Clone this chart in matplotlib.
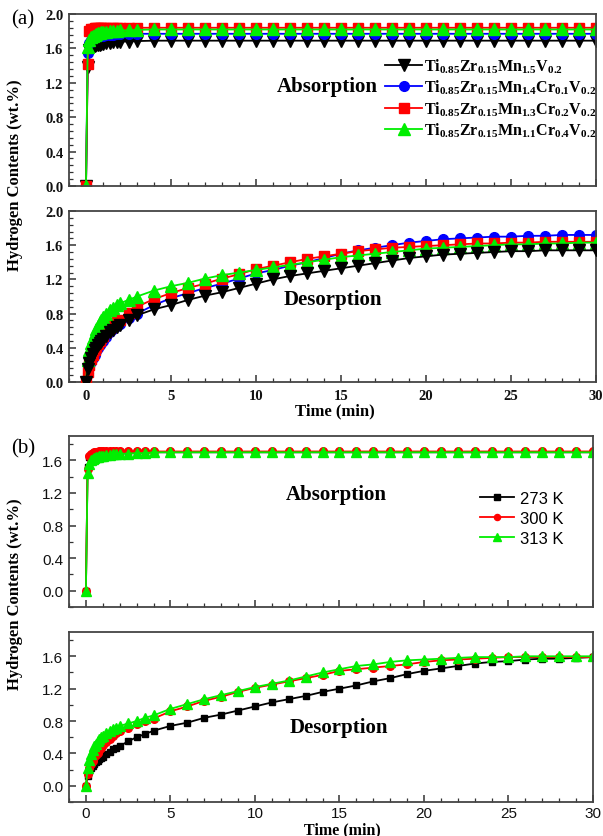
import matplotlib
matplotlib.use("Agg")
import matplotlib.pyplot as plt
from matplotlib.ticker import MultipleLocator, AutoMinorLocator

plt.rcParams['mathtext.fontset'] = 'custom'
plt.rcParams['mathtext.rm'] = 'Liberation Serif'
plt.rcParams['mathtext.bf'] = 'Liberation Serif:bold'
plt.rcParams['mathtext.it'] = 'Liberation Serif:italic'

# ---------------- data: panel (a) ----------------
time_a = [0, 0.1, 0.2, 0.3, 0.4, 0.5, 0.6, 0.7, 0.8, 0.9, 1.0, 1.2, 1.4, 1.6, 1.8, 2.0,
          2.5, 3, 4, 5, 6, 7, 8, 9, 10, 11, 12, 13, 14, 15, 16, 17, 18, 19, 20,
          21, 22, 23, 24, 25, 26, 27, 28, 29, 30]

labels_a = [r'$\mathbf{Ti_{0.85}Zr_{0.15}Mn_{1.5}V_{0.2}}$',
            r'$\mathbf{Ti_{0.85}Zr_{0.15}Mn_{1.4}Cr_{0.1}V_{0.2}}$',
            r'$\mathbf{Ti_{0.85}Zr_{0.15}Mn_{1.3}Cr_{0.2}V_{0.2}}$',
            r'$\mathbf{Ti_{0.85}Zr_{0.15}Mn_{1.1}Cr_{0.4}V_{0.2}}$']

abs_a_mn15 = [0, 1.38, 1.58, 1.61, 1.62, 1.63, 1.635, 1.64, 1.645, 1.65, 1.655, 1.66, 1.665, 1.67, 1.675, 1.68,
              1.68, 1.685, 1.69, 1.69, 1.69, 1.69, 1.69, 1.69, 1.69, 1.69, 1.69, 1.69, 1.69, 1.69, 1.69,
              1.69, 1.69, 1.69, 1.69, 1.69, 1.69, 1.69, 1.69, 1.69, 1.69, 1.69, 1.69, 1.69, 1.69]
abs_a_cr01 = [0, 1.55, 1.66, 1.70, 1.72, 1.73, 1.735, 1.74, 1.745, 1.75, 1.75, 1.755, 1.76, 1.76, 1.765, 1.765,
              1.77, 1.77, 1.77, 1.77, 1.77, 1.77, 1.77, 1.77, 1.77, 1.77, 1.77, 1.77, 1.77, 1.77, 1.77,
              1.77, 1.77, 1.77, 1.77, 1.77, 1.77, 1.77, 1.77, 1.77, 1.77, 1.77, 1.77, 1.77, 1.77]
abs_a_cr02 = [0, 1.42, 1.80, 1.82, 1.83, 1.835, 1.84, 1.84, 1.84, 1.84, 1.84, 1.84, 1.84, 1.84, 1.84, 1.84,
              1.84, 1.84, 1.84, 1.84, 1.84, 1.84, 1.84, 1.84, 1.84, 1.84, 1.84, 1.84, 1.84, 1.84, 1.84,
              1.84, 1.84, 1.84, 1.84, 1.84, 1.84, 1.84, 1.84, 1.84, 1.84, 1.84, 1.84, 1.84, 1.84]
abs_a_cr04 = [0, 1.62, 1.70, 1.73, 1.75, 1.76, 1.77, 1.775, 1.78, 1.785, 1.79, 1.795, 1.80, 1.80, 1.805, 1.81,
              1.81, 1.815, 1.82, 1.82, 1.82, 1.82, 1.82, 1.82, 1.82, 1.82, 1.82, 1.82, 1.82, 1.82, 1.82,
              1.82, 1.82, 1.82, 1.82, 1.82, 1.82, 1.82, 1.82, 1.82, 1.82, 1.82, 1.82, 1.82, 1.82]

des_a_mn15 = [0, 0.15, 0.22, 0.28, 0.33, 0.37, 0.40, 0.43, 0.46, 0.48, 0.50, 0.54, 0.58, 0.61, 0.64, 0.67,
              0.73, 0.78, 0.85, 0.90, 0.96, 1.01, 1.05, 1.10, 1.15, 1.20, 1.24, 1.27, 1.30, 1.33, 1.36,
              1.39, 1.42, 1.45, 1.47, 1.49, 1.50, 1.51, 1.52, 1.53, 1.53, 1.54, 1.54, 1.54, 1.54]
des_a_cr01 = [0, 0.10, 0.17, 0.23, 0.28, 0.32, 0.36, 0.40, 0.43, 0.46, 0.48, 0.53, 0.58, 0.62, 0.65, 0.68,
              0.75, 0.80, 0.90, 0.98, 1.04, 1.10, 1.15, 1.21, 1.27, 1.31, 1.36, 1.40, 1.45, 1.50, 1.54,
              1.57, 1.60, 1.63, 1.65, 1.67, 1.68, 1.69, 1.70, 1.70, 1.71, 1.71, 1.72, 1.72, 1.72]
des_a_cr02 = [0, 0.12, 0.20, 0.27, 0.32, 0.37, 0.41, 0.45, 0.48, 0.51, 0.54, 0.59, 0.63, 0.67, 0.70, 0.73,
              0.81, 0.88, 0.97, 1.04, 1.10, 1.15, 1.21, 1.26, 1.32, 1.36, 1.40, 1.44, 1.47, 1.50, 1.53,
              1.55, 1.57, 1.58, 1.59, 1.60, 1.61, 1.62, 1.62, 1.63, 1.63, 1.64, 1.64, 1.64, 1.64]
des_a_cr04 = [0, 0.26, 0.38, 0.46, 0.52, 0.57, 0.62, 0.66, 0.70, 0.73, 0.76, 0.80, 0.84, 0.87, 0.90, 0.92,
              0.96, 1.00, 1.07, 1.12, 1.16, 1.21, 1.25, 1.28, 1.31, 1.34, 1.37, 1.40, 1.43, 1.46, 1.48,
              1.50, 1.52, 1.54, 1.56, 1.57, 1.58, 1.59, 1.60, 1.61, 1.61, 1.62, 1.62, 1.63, 1.63]

# ---------------- data: panel (b) ----------------
time_b = [0, 0.1, 0.2, 0.3, 0.4, 0.5, 0.6, 0.7, 0.8, 0.9, 1.0, 1.2, 1.4, 1.6, 1.8, 2.0,
          2.5, 3, 3.5, 4, 5, 6, 7, 8, 9, 10, 11, 12, 13, 14, 15, 16, 17, 18, 19, 20,
          21, 22, 23, 24, 25, 26, 27, 28, 29, 30]
labels_b = ['273 K', '300 K', '313 K']

abs_b_273 = [0, 1.52, 1.64, 1.67, 1.68, 1.69, 1.695, 1.70, 1.70, 1.70, 1.70, 1.70, 1.70, 1.70, 1.70, 1.70,
             1.70, 1.70, 1.70, 1.70, 1.70, 1.70, 1.70, 1.70, 1.70, 1.70, 1.70, 1.70, 1.70, 1.70, 1.70,
             1.70, 1.70, 1.70, 1.70, 1.70, 1.70, 1.70, 1.70, 1.70, 1.70, 1.70, 1.70, 1.70, 1.70, 1.70]
abs_b_300 = [0, 1.50, 1.65, 1.68, 1.69, 1.70, 1.70, 1.705, 1.71, 1.71, 1.71, 1.71, 1.71, 1.71, 1.71, 1.71,
             1.71, 1.71, 1.71, 1.71, 1.71, 1.71, 1.71, 1.71, 1.71, 1.71, 1.71, 1.71, 1.71, 1.71, 1.71,
             1.71, 1.71, 1.71, 1.71, 1.71, 1.71, 1.71, 1.71, 1.71, 1.71, 1.71, 1.71, 1.71, 1.71, 1.71]
abs_b_313 = [0, 1.44, 1.56, 1.60, 1.62, 1.63, 1.64, 1.645, 1.65, 1.655, 1.66, 1.665, 1.67, 1.675, 1.68, 1.68,
             1.685, 1.69, 1.69, 1.70, 1.70, 1.70, 1.70, 1.70, 1.70, 1.70, 1.70, 1.70, 1.70, 1.70, 1.70,
             1.70, 1.70, 1.70, 1.70, 1.70, 1.70, 1.70, 1.70, 1.70, 1.70, 1.70, 1.70, 1.70, 1.70, 1.70]

des_b_273 = [0, 0.12, 0.18, 0.22, 0.25, 0.27, 0.29, 0.31, 0.33, 0.34, 0.36, 0.39, 0.42, 0.45, 0.47, 0.49,
             0.55, 0.60, 0.64, 0.68, 0.74, 0.78, 0.84, 0.88, 0.93, 0.98, 1.03, 1.07, 1.11, 1.16, 1.20,
             1.24, 1.29, 1.33, 1.38, 1.42, 1.45, 1.48, 1.51, 1.53, 1.54, 1.56, 1.57, 1.57, 1.58, 1.59]
des_b_300 = [0, 0.15, 0.22, 0.27, 0.31, 0.35, 0.38, 0.41, 0.44, 0.47, 0.50, 0.54, 0.58, 0.62, 0.65, 0.68,
             0.72, 0.76, 0.80, 0.83, 0.92, 0.98, 1.05, 1.10, 1.16, 1.21, 1.25, 1.29, 1.33, 1.37, 1.42,
             1.44, 1.46, 1.48, 1.50, 1.53, 1.55, 1.56, 1.57, 1.58, 1.59, 1.59, 1.59, 1.59, 1.59, 1.59]
des_b_313 = [0, 0.22, 0.32, 0.39, 0.44, 0.49, 0.52, 0.55, 0.58, 0.60, 0.62, 0.65, 0.68, 0.70, 0.72, 0.74,
             0.77, 0.80, 0.84, 0.87, 0.95, 1.01, 1.07, 1.12, 1.17, 1.22, 1.26, 1.30, 1.35, 1.40, 1.44,
             1.48, 1.50, 1.53, 1.55, 1.56, 1.57, 1.58, 1.59, 1.59, 1.59, 1.60, 1.60, 1.60, 1.60, 1.60]

# ---------------- styles ----------------
colors_a = ['black', '#0000ff', '#ff0000', '#00ee00']
markers_a = ['v', 'o', 's', '^']
msizes_a = [8.5, 7, 7, 8.5]
colors_b = ['black', '#ff0000', '#00ee00']
markers_b = ['s', 'o', '^']
msizes_b = [5, 5.5, 6.5]

SERIF = 'Liberation Serif'
SANS = 'Liberation Sans'
W, H = 603, 837

fig = plt.figure(figsize=(W / 100, H / 100), dpi=100)


def rect(l, t, r, b):
    return [l / W, (H - b) / H, (r - l) / W, (b - t) / H]


ax1 = fig.add_axes(rect(69, 15, 596, 187))
ax2 = fig.add_axes(rect(69, 212, 596, 383))
ax3 = fig.add_axes(rect(69, 437, 593, 608))
ax4 = fig.add_axes(rect(69, 633, 593, 803))


def style(ax, ylim, ymajor, yminor_n, fontfamily, fontweight, fontsize, show_x, xpad):
    ax.set_xlim(-1, 30)
    ax.set_ylim(*ylim)
    ax.xaxis.set_major_locator(MultipleLocator(5))
    ax.xaxis.set_minor_locator(MultipleLocator(1))
    ax.yaxis.set_major_locator(MultipleLocator(ymajor))
    ax.yaxis.set_minor_locator(AutoMinorLocator(yminor_n))
    ax.tick_params(which='both', direction='in', top=False, right=False, colors='#333333')
    ax.tick_params(which='major', length=5, width=1.1)
    ax.tick_params(which='minor', length=3, width=0.9)
    ax.tick_params(axis='x', labelbottom=show_x, pad=xpad)
    ax.tick_params(axis='y', pad=4)
    for s in ax.spines.values():
        s.set_linewidth(1.3)
        s.set_color('#444444')
    for lab in ax.get_xticklabels() + ax.get_yticklabels():
        lab.set_fontfamily(fontfamily)
        lab.set_fontweight(fontweight)
        lab.set_fontsize(fontsize)
        lab.set_color('#111111')


# panel (a) absorption
for y, c, m, ms, lab in zip([abs_a_mn15, abs_a_cr01, abs_a_cr02, abs_a_cr04],
                            colors_a, markers_a, msizes_a, labels_a):
    ax1.plot(time_a, y, color=c, marker=m, markersize=ms, linewidth=1.3, label=lab)
# panel (a) desorption
for y, c, m, ms, z in zip([des_a_mn15, des_a_cr01, des_a_cr02, des_a_cr04],
                          colors_a, markers_a, msizes_a, [5, 2, 3, 4]):
    ax2.plot(time_a, y, color=c, marker=m, markersize=ms, linewidth=1.3, zorder=z)

style(ax1, (0, 2.0), 0.4, 5, SERIF, 'bold', 10.5, False, 5)
style(ax2, (0, 2.0), 0.4, 5, SERIF, 'bold', 10.5, True, 5)

ax1.legend(loc='upper left', bbox_to_anchor=(0.60, 0.755), frameon=False,
           fontsize=11.5, handlelength=2.3, handletextpad=0.1, labelspacing=0.2,
           borderpad=0, borderaxespad=0)

ax1.text(0.49, 0.58, 'Absorption', transform=ax1.transAxes, ha='center', va='center',
         fontfamily=SERIF, fontweight='bold', fontsize=15)
ax2.text(0.50, 0.485, 'Desorption', transform=ax2.transAxes, ha='center', va='center',
         fontfamily=SERIF, fontweight='bold', fontsize=15)

# panel (b) absorption
for y, c, m, ms, lab in zip([abs_b_273, abs_b_300, abs_b_313],
                            colors_b, markers_b, msizes_b, labels_b):
    ax3.plot(time_b, y, color=c, marker=m, markersize=ms, linewidth=1.3, label=lab)
# panel (b) desorption
for y, c, m, ms in zip([des_b_273, des_b_300, des_b_313], colors_b, markers_b, msizes_b):
    ax4.plot(time_b, y, color=c, marker=m, markersize=ms, linewidth=1.3)

style(ax3, (-0.2, 1.9), 0.4, 2, SANS, 'normal', 11, False, 4)
style(ax4, (-0.2, 1.9), 0.4, 2, SANS, 'normal', 11, True, 3)

ax3.legend(loc='upper left', bbox_to_anchor=(0.785, 0.68), frameon=False,
           prop={'family': SANS, 'size': 12}, handlelength=2.0, handletextpad=0.4,
           labelspacing=0.3, borderpad=0, borderaxespad=0, markerscale=0.8)

ax3.text(0.51, 0.66, 'Absorption', transform=ax3.transAxes, ha='center', va='center',
         fontfamily=SERIF, fontweight='bold', fontsize=15)
ax4.text(0.515, 0.44, 'Desorption', transform=ax4.transAxes, ha='center', va='center',
         fontfamily=SERIF, fontweight='bold', fontsize=15)

# axis labels and panel labels
fig.text(15 / W, 1 - 175 / H, 'Hydrogen Contents (wt.%)', rotation=90, ha='center', va='center',
         fontfamily=SERIF, fontweight='bold', fontsize=12)
fig.text(15 / W, 1 - 594 / H, 'Hydrogen Contents (wt.%)', rotation=90, ha='center', va='center',
         fontfamily=SERIF, fontweight='bold', fontsize=12)
fig.text(335 / W, 1 - 411 / H, 'Time (min)', ha='center', va='center',
         fontfamily=SERIF, fontweight='bold', fontsize=12)
fig.text(342 / W, 1 - 830 / H, 'Time (min)', ha='center', va='center',
         fontfamily=SERIF, fontweight='bold', fontsize=11.5)
fig.text(23 / W, 1 - 20 / H, '(a)', ha='center', va='center', fontfamily=SERIF, fontsize=15)
fig.text(23 / W, 1 - 449 / H, '(b)', ha='center', va='center', fontfamily=SERIF, fontsize=15)

fig.savefig('out.png', dpi=100)
